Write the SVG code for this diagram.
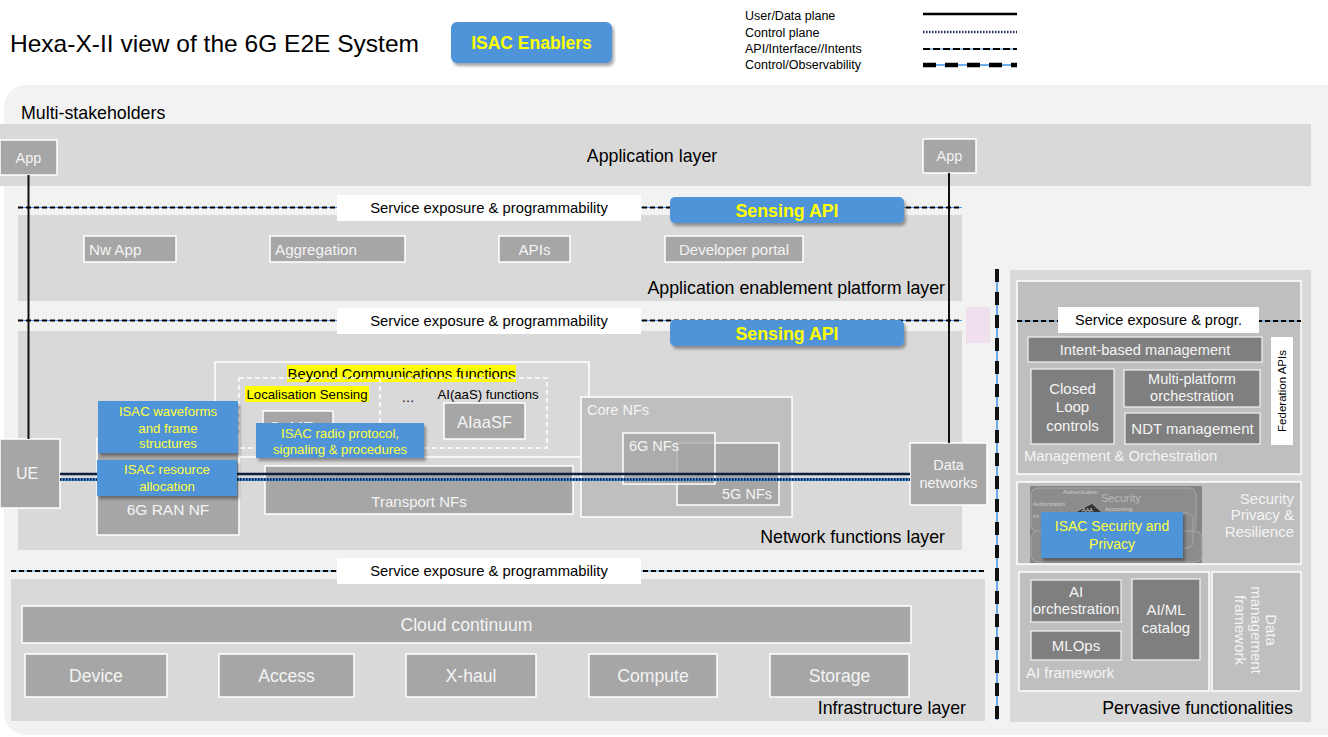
<svg xmlns="http://www.w3.org/2000/svg" width="1328" height="737" viewBox="0 0 1328 737">
<defs>
<style>
text{font-family:"Liberation Sans",Arial,sans-serif;}
.lyr{fill:#d9d9d9;}
.box{fill:#a6a6a6;stroke:#fff;stroke-width:1.5;}
.dbox{fill:#7f7f7f;stroke:#f4f4f4;stroke-width:1.2;}
.mbox{fill:#bfbfbf;stroke:#fff;stroke-width:1.5;}
.wt{fill:#f4f4f4;}
.bk{fill:#000;}
.blue{fill:#4f93d9;}
.yl{fill:#ffff40;}
.yb{fill:#ffff00;font-weight:bold;}
.hl{fill:#ffff00;}
.ll{font-size:17.8px;fill:#000;}
.sepb{stroke:#3d95e8;stroke-width:1;fill:none;}
.sepd{stroke:#000;stroke-width:2;stroke-dasharray:5 3;fill:none;}
</style>
<filter id="sh" x="-10%" y="-20%" width="130%" height="160%">
<feDropShadow dx="2" dy="3" stdDeviation="1.5" flood-color="#000" flood-opacity="0.35"/>
</filter>
</defs>
<rect x="0" y="0" width="1328" height="737" fill="#fff"/>

<!-- title & legend -->
<g id="title">
<text x="10" y="52" font-size="24" textLength="409" lengthAdjust="spacingAndGlyphs" class="bk">Hexa-X-II view of the 6G E2E System</text>
</g>
<g id="isac-enablers">
<rect x="451" y="22" width="161" height="41" rx="6" class="blue" filter="url(#sh)"/>
<text x="531.5" y="49" font-size="17.5" text-anchor="middle" class="yb">ISAC Enablers</text>
</g>
<g id="legend" font-size="12.5">
<text x="745" y="19.5" class="bk">User/Data plane</text>
<text x="745" y="37" class="bk">Control plane</text>
<text x="745" y="53" class="bk">API/Interface//Intents</text>
<text x="745" y="68.5" class="bk">Control/Observability</text>
<line x1="923" y1="14" x2="1017" y2="14" stroke="#000" stroke-width="2.5"/>
<line x1="923" y1="32" x2="1017" y2="32" stroke="#1a2a5a" stroke-width="2.5" stroke-dasharray="1.5 1.5"/>
<line x1="923" y1="49" x2="1017" y2="49" stroke="#3d95e8" stroke-width="1"/>
<line x1="923" y1="49" x2="1017" y2="49" stroke="#000" stroke-width="2" stroke-dasharray="7 3"/>
<line x1="923" y1="65" x2="1017" y2="65" stroke="#3d95e8" stroke-width="1.5"/>
<line x1="923" y1="65" x2="1017" y2="65" stroke="#000" stroke-width="4.5" stroke-dasharray="13 9"/>
</g>

<!-- multi-stakeholder panel and layers -->
<g id="multi-stakeholders">
<rect x="4" y="85" width="1345" height="650" rx="22" fill="#f2f2f2"/>
<text x="21" y="119" class="ll">Multi-stakeholders</text>
</g>
<g id="application-layer">
<rect x="0" y="124" width="1311" height="62" class="lyr"/>
<text x="652" y="162" text-anchor="middle" class="ll">Application layer</text>
</g>
<g id="app-enablement-layer">
<rect x="18" y="215" width="944" height="86" class="lyr"/>
<text x="945" y="294" text-anchor="end" class="ll">Application enablement platform layer</text>
</g>
<g id="nf-layer">
<rect x="18" y="331" width="944" height="219" class="lyr"/>
<text x="945" y="543" text-anchor="end" class="ll">Network functions layer</text>
</g>
<g id="infra-layer">
<rect x="11" y="579" width="974" height="142" class="lyr"/>
<text x="966" y="714" text-anchor="end" class="ll">Infrastructure layer</text>
</g>
<g id="pervasive">
<rect x="1010" y="270" width="301" height="452" class="lyr"/>
<text x="1293" y="714" text-anchor="end" class="ll">Pervasive functionalities</text>
</g>
<rect id="pink-marker" x="966" y="307" width="24" height="36" fill="#f0e0ee"/>

<!-- application layer nodes -->
<g id="app-left"><rect x="0" y="140" width="57" height="35" class="box"/><text x="28.5" y="163" font-size="14.5" text-anchor="middle" class="wt">App</text></g>
<g id="app-right"><rect x="923" y="139" width="53" height="34" class="box"/><text x="949.5" y="161" font-size="14.5" text-anchor="middle" class="wt">App</text></g>

<!-- app enablement nodes -->
<g id="nw-app"><rect x="84" y="236" width="92" height="26" class="box"/><text x="89" y="254.5" font-size="15.2" class="wt">Nw App</text></g>
<g id="aggregation"><rect x="270" y="236" width="135" height="26" class="box"/><text x="275" y="254.5" font-size="15.2" class="wt">Aggregation</text></g>
<g id="apis"><rect x="499" y="236" width="71" height="26" class="box"/><text x="534.5" y="254.5" font-size="15.2" text-anchor="middle" class="wt">APIs</text></g>
<g id="developer-portal"><rect x="665" y="236" width="138" height="26" class="box"/><text x="734" y="254.5" font-size="15" text-anchor="middle" class="wt">Developer portal</text></g>

<!-- network function nodes -->
<g id="beyond-comm">
<rect x="215" y="362" width="374" height="95" fill="none" stroke="#fff" stroke-width="1.5"/>
<rect x="287" y="365" width="229" height="17" class="hl"/>
<text x="401.5" y="379" font-size="14.8" text-anchor="middle" class="bk">Beyond Communications functions</text>
<rect x="239" y="378" width="308" height="70" fill="none" stroke="#fff" stroke-width="1.5" stroke-dasharray="5 3"/>
<line x1="380" y1="378" x2="380" y2="448" stroke="#fff" stroke-width="1.5" stroke-dasharray="5 3"/>
<rect x="245" y="386" width="124" height="16" class="hl"/>
<text x="307" y="398.5" font-size="13.2" text-anchor="middle" class="bk">Localisation Sensing</text>
<text x="408" y="402" font-size="13" text-anchor="middle" class="bk">…</text>
<text x="488" y="399" font-size="13.2" text-anchor="middle" class="bk">AI(aaS) functions</text>
</g>
<g id="aiaasf"><rect x="444" y="403" width="81" height="36" class="box"/><text x="484.5" y="428" font-size="16.5" text-anchor="middle" class="wt">AIaaSF</text></g>
<g id="semf"><rect x="263" y="411" width="70" height="34" class="box"/><text x="269" y="434" font-size="16.5" class="wt">SeMF</text></g>
<g id="ran-nf"><rect x="97" y="438" width="142" height="97" class="box"/><text x="168" y="515" font-size="15.5" text-anchor="middle" class="wt">6G RAN NF</text></g>
<g id="transport-nfs"><rect x="265" y="466" width="308" height="48" class="box"/><text x="419" y="507" font-size="15" text-anchor="middle" class="wt">Transport NFs</text></g>
<g id="core-nfs">
<rect x="581" y="397" width="211" height="120" class="mbox"/>
<text x="587" y="415" font-size="14.5" class="wt">Core NFs</text>
</g>
<g id="g5-nfs"><rect x="677" y="443" width="102" height="62" class="box"/><text x="772" y="499" font-size="14.5" text-anchor="end" class="wt">5G NFs</text></g>
<g id="g6-nfs"><rect x="623" y="433" width="92" height="51" fill="#a6a6a6" fill-opacity="0.75" stroke="#fff" stroke-width="1.5"/><text x="629" y="451" font-size="14.5" class="wt">6G NFs</text></g>
<g id="data-networks"><rect x="910" y="443" width="77" height="62" class="box"/><text x="948.5" y="470" font-size="14.5" text-anchor="middle" class="wt">Data</text><text x="948.5" y="488" font-size="14.5" text-anchor="middle" class="wt">networks</text></g>
<g id="ue"><rect x="0" y="439" width="60" height="69" class="box"/><text x="27" y="479" font-size="16" text-anchor="middle" class="wt">UE</text></g>

<!-- infrastructure nodes -->
<g id="cloud-continuum"><rect x="22" y="606" width="889" height="37" class="box"/><text x="466.5" y="631" font-size="17.6" text-anchor="middle" class="wt">Cloud continuum</text></g>
<g id="device"><rect x="25" y="654" width="142" height="43" class="box"/><text x="96" y="682" font-size="17.6" text-anchor="middle" class="wt">Device</text></g>
<g id="access"><rect x="219" y="654" width="135" height="43" class="box"/><text x="286.5" y="682" font-size="17.6" text-anchor="middle" class="wt">Access</text></g>
<g id="x-haul"><rect x="406" y="654" width="130" height="43" class="box"/><text x="471" y="682" font-size="17.6" text-anchor="middle" class="wt">X-haul</text></g>
<g id="compute"><rect x="589" y="654" width="128" height="43" class="box"/><text x="653" y="682" font-size="17.6" text-anchor="middle" class="wt">Compute</text></g>
<g id="storage"><rect x="770" y="654" width="139" height="43" class="box"/><text x="839.5" y="682" font-size="17.6" text-anchor="middle" class="wt">Storage</text></g>

<!-- pervasive nodes -->
<g id="mgmt-orch">
<rect x="1017" y="281" width="284" height="193" class="mbox"/>
<text x="1024" y="461" font-size="14.8" class="wt">Management &amp; Orchestration</text>
</g>
<g id="intent-mgmt"><rect x="1028" y="337" width="234" height="25" class="dbox"/><text x="1145" y="354.5" font-size="14.6" text-anchor="middle" class="wt">Intent-based management</text></g>
<g id="federation-apis"><rect x="1271" y="337" width="22" height="108" fill="#fff"/><text transform="translate(1282,391) rotate(-90)" y="4" font-size="11.5" text-anchor="middle" class="bk">Federation APIs</text></g>
<g id="closed-loop"><rect x="1031" y="369" width="83" height="75" class="dbox"/>
<text x="1072.5" y="394" font-size="15" text-anchor="middle" class="wt">Closed</text>
<text x="1072.5" y="412" font-size="15" text-anchor="middle" class="wt">Loop</text>
<text x="1072.5" y="431" font-size="15" text-anchor="middle" class="wt">controls</text></g>
<g id="multi-platform"><rect x="1124" y="370" width="136" height="37" class="dbox"/>
<text x="1192" y="384" font-size="14.5" text-anchor="middle" class="wt">Multi-platform</text>
<text x="1192" y="401" font-size="14.5" text-anchor="middle" class="wt">orchestration</text></g>
<g id="ndt-mgmt"><rect x="1125" y="413" width="135" height="31" class="dbox"/><text x="1192.5" y="434" font-size="15" text-anchor="middle" class="wt">NDT management</text></g>

<g id="security">
<rect x="1017" y="482" width="284" height="82" class="mbox"/>
<rect x="1030" y="486" width="172" height="77" fill="#858585"/>
<rect x="1031" y="488" width="165" height="44" rx="7" fill="#8c8c8c" stroke="#a8a8a8" stroke-width="1"/>
<rect x="1031" y="531" width="171" height="31" rx="7" fill="#8c8c8c" stroke="#a8a8a8" stroke-width="1"/>
<rect x="1160" y="513" width="33" height="35" rx="6" fill="none" stroke="#a8a8a8" stroke-width="1"/>
<polygon points="1092,504 1073,514 1103,514" fill="#333"/>
<text x="1082" y="512" font-size="5.5" fill="#ddd">AAA</text>
<text x="1063" y="494" font-size="5.5" fill="#ccc">Authentication</text>
<text x="1033" y="506" font-size="5.5" fill="#ccc">Authorization</text>
<text x="1105" y="511" font-size="5.5" fill="#ccc">Accounting</text>
<text x="1033" y="518" font-size="5.5" fill="#ccc">Int</text>
<text x="1101" y="502" font-size="11" fill="#b8b8b8">Security</text>
<text x="1294" y="504" font-size="15" text-anchor="end" class="wt">Security</text>
<text x="1294" y="520" font-size="15" text-anchor="end" class="wt">Privacy &amp;</text>
<text x="1294" y="537" font-size="15" text-anchor="end" class="wt">Resilience</text>
</g>
<g id="ai-framework">
<rect x="1019" y="572" width="190" height="119" class="mbox"/>
<text x="1026" y="678" font-size="15" class="wt">AI framework</text>
</g>
<g id="ai-orch"><rect x="1031" y="580" width="90" height="42" class="dbox"/>
<text x="1076" y="597" font-size="15" text-anchor="middle" class="wt">AI</text>
<text x="1076" y="614" font-size="15" text-anchor="middle" class="wt">orchestration</text></g>
<g id="mlops"><rect x="1031" y="631" width="90" height="29" class="dbox"/><text x="1076" y="651" font-size="15" text-anchor="middle" class="wt">MLOps</text></g>
<g id="aiml-catalog"><rect x="1132" y="579" width="68" height="81" class="dbox"/>
<text x="1166" y="615" font-size="15" text-anchor="middle" class="wt">AI/ML</text>
<text x="1166" y="633" font-size="15" text-anchor="middle" class="wt">catalog</text></g>
<g id="data-mgmt"><rect x="1212" y="572" width="89" height="119" class="mbox"/>
<g transform="translate(1256,630) rotate(90)" font-size="15" text-anchor="middle" class="wt">
<text y="-10" class="wt">Data</text>
<text y="5" class="wt">management</text>
<text y="21" class="wt">framework</text>
</g></g>

<!-- connectors -->
<g id="connectors">
<line x1="28.5" y1="175" x2="28.5" y2="439" stroke="#111" stroke-width="2"/>
<line x1="949" y1="173" x2="949" y2="443" stroke="#111" stroke-width="2"/>
<line x1="60" y1="474" x2="910" y2="474" stroke="#0f1f3d" stroke-width="2.5"/>
<line x1="60" y1="479.5" x2="910" y2="479.5" stroke="#3d95e8" stroke-width="3"/>
<line x1="60" y1="479.5" x2="910" y2="479.5" stroke="#0a1530" stroke-width="2.5" stroke-dasharray="1.5 1.5"/>
<line x1="18" y1="207.5" x2="962" y2="207.5" class="sepb"/>
<line x1="18" y1="207.5" x2="962" y2="207.5" class="sepd"/>
<line x1="18" y1="320.5" x2="962" y2="320.5" class="sepb"/>
<line x1="18" y1="320.5" x2="962" y2="320.5" class="sepd"/>
<line x1="11" y1="571" x2="984" y2="571" class="sepb"/>
<line x1="11" y1="571" x2="984" y2="571" class="sepd"/>
<line x1="1017" y1="321" x2="1301" y2="321" class="sepb"/>
<line x1="1017" y1="321" x2="1301" y2="321" class="sepd"/>
<line x1="997" y1="269" x2="997" y2="720" stroke="#3d95e8" stroke-width="1.5"/>
<line x1="997" y1="269" x2="997" y2="720" stroke="#111" stroke-width="4" stroke-dasharray="13 10"/>
</g>

<!-- service exposure labels -->
<g id="svc-exp-1"><rect x="337" y="195" width="304" height="26" fill="#fff"/><text x="489" y="213" font-size="14.8" text-anchor="middle" class="bk">Service exposure &amp; programmability</text></g>
<g id="svc-exp-2"><rect x="337" y="308" width="304" height="26" fill="#fff"/><text x="489" y="326" font-size="14.8" text-anchor="middle" class="bk">Service exposure &amp; programmability</text></g>
<g id="svc-exp-3"><rect x="337" y="558" width="304" height="26" fill="#fff"/><text x="489" y="576" font-size="14.8" text-anchor="middle" class="bk">Service exposure &amp; programmability</text></g>
<g id="svc-exp-4"><rect x="1058" y="307" width="201" height="26" fill="#fff"/><text x="1158.5" y="325" font-size="14.5" text-anchor="middle" class="bk">Service exposure &amp; progr.</text></g>

<!-- ISAC enablers -->
<g id="sensing-api-1"><rect x="670" y="197" width="234" height="26" rx="5" class="blue" filter="url(#sh)"/><text x="787" y="216.5" font-size="17.8" text-anchor="middle" class="yb">Sensing API</text></g>
<g id="sensing-api-2"><rect x="670" y="320" width="234" height="26" rx="5" class="blue" filter="url(#sh)"/><text x="787" y="339.5" font-size="17.8" text-anchor="middle" class="yb">Sensing API</text></g>
<g id="isac-waveforms"><rect x="98" y="401" width="140" height="52" class="blue" filter="url(#sh)"/>
<text x="168" y="416" font-size="13.2" text-anchor="middle" class="yl">ISAC waveforms</text>
<text x="168" y="433" font-size="13.2" text-anchor="middle" class="yl">and frame</text>
<text x="168" y="448" font-size="13.2" text-anchor="middle" class="yl">structures</text></g>
<g id="isac-resource"><rect x="97" y="460" width="140" height="36" class="blue" filter="url(#sh)"/>
<text x="167" y="474" font-size="13.2" text-anchor="middle" class="yl">ISAC resource</text>
<text x="167" y="491" font-size="13.2" text-anchor="middle" class="yl">allocation</text></g>
<g id="isac-radio"><rect x="256" y="423" width="168" height="35" class="blue" filter="url(#sh)"/>
<text x="340" y="438" font-size="13.2" text-anchor="middle" class="yl">ISAC radio protocol,</text>
<text x="340" y="454" font-size="13.2" text-anchor="middle" class="yl">signaling &amp; procedures</text></g>
<g id="isac-security"><rect x="1041" y="512" width="142" height="46" class="blue" filter="url(#sh)"/>
<text x="1112" y="531" font-size="14" text-anchor="middle" class="yl">ISAC Security and</text>
<text x="1112" y="549" font-size="14" text-anchor="middle" class="yl">Privacy</text></g>
</svg>
